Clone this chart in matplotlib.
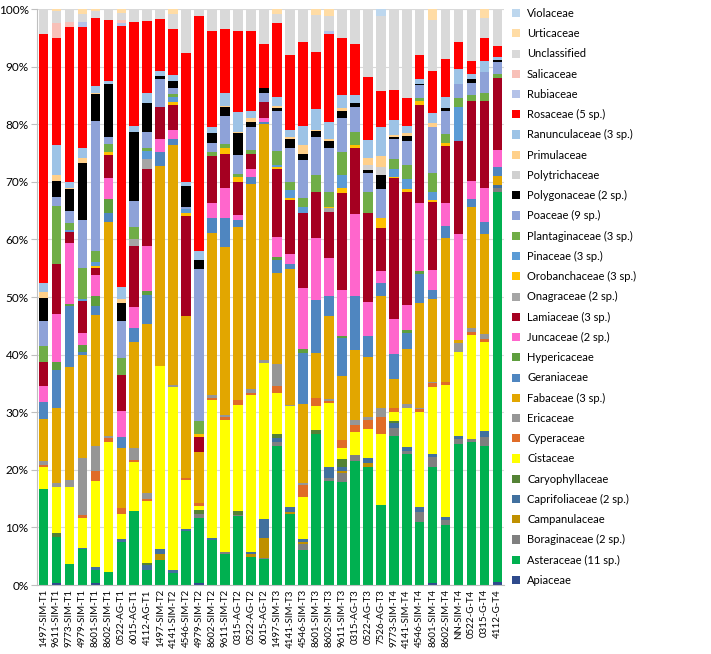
import matplotlib
matplotlib.use("Agg")
import matplotlib.pyplot as plt
import numpy as np
from matplotlib.ticker import FuncFormatter, MultipleLocator

plt.rcParams['font.family'] = ['Lato', 'DejaVu Sans']

samples = ["1497-SIM-T1", "9611-SIM-T1", "9773-SIM-T1", "4979-SIM-T1", "8601-SIM-T1",
           "8602-SIM-T1", "0522-AG-T1", "6015-AG-T1", "4112-AG-T1", "1497-SIM-T2",
           "4141-SIM-T2", "4546-SIM-T2", "4979-SIM-T2", "8602-SIM-T2", "9611-SIM-T2",
           "0315-AG-T2", "0522-AG-T2", "6015-AG-T2", "1497-SIM-T3", "4141-SIM-T3",
           "4546-SIM-T3", "8601-SIM-T3", "8602-SIM-T3", "9611-SIM-T3", "0315-AG-T3",
           "0522-AG-T3", "7526-AG-T3", "9773-SIM-T4", "4141-SIM-T4", "4546-SIM-T4",
           "8601-SIM-T4", "8602-SIM-T4", "NN-SIM-T4", "0522-G-T4", "0315-G-T4", "4112-G-T4"]

# percentages per family, one value per sample (stack order, bottom first)
apiaceae = [0, 0.4, 0, 0, 0.3, 0, 0, 0, 0, 0,
            0, 0, 0.3, 0, 0, 0, 0, 0, 0, 0,
            0, 0, 0, 0, 0, 0, 0, 0, 0, 0,
            0.3, 0, 0, 0, 0, 0.5]
asteraceae = [16.7, 8.0, 3.6, 6.2, 2.3, 2.2, 7.5, 12.8, 2.6, 4.3,
              2.0, 9.3, 11.4, 7.8, 5.3, 12.0, 4.9, 4.5, 24.2, 12.3,
              6.1, 26.3, 18.1, 17.9, 21.5, 20.5, 13.9, 25.9, 22.7, 10.9,
              20.2, 10.5, 24.5, 24.8, 24.2, 67.8]
boraginaceae = [0, 0, 0, 0, 0, 0, 0, 0, 0, 0,
                0, 0, 0.7, 0, 0.5, 0.2, 0, 0.2, 0.6, 0,
                1.0, 0, 0.5, 1.5, 1.1, 0, 0, 1.3, 0.6, 1.8,
                1.8, 0.8, 0.8, 0.6, 1.5, 0.7]
campanulaceae = [0, 0, 0, 0, 0, 0, 0, 0, 0, 1.0,
                 0, 0, 0, 0, 0, 0, 0.4, 3.4, 0, 0.4,
                 0.3, 0, 0, 0.4, 0, 0.6, 0, 0, 0, 0,
                 0, 0, 0, 0, 0, 0]
caprifoliaceae = [0, 0, 0, 0.2, 0.6, 0, 0.5, 0, 0.8, 0.9,
                  0.6, 0.5, 0, 0.3, 0, 0, 0.4, 3.4, 0.7, 0.9,
                  0.6, 0, 1.8, 0.7, 0, 0.9, 0, 0.9, 0.7, 0.9,
                  0.4, 0.5, 0.5, 0, 1.0, 0.5]
caryophyllaceae = [0, 0.6, 0, 0, 0, 0, 0, 0, 0.4, 0,
                   0, 0, 0.6, 0, 0, 0.6, 0, 0, 0.7, 0,
                   0, 0.6, 0, 1.4, 0, 0, 0, 0.4, 0, 0,
                   0, 0, 0, 0, 0, 0]
cistaceae = [3.8, 8.1, 13.5, 5.3, 14.8, 22.6, 4.3, 8.6, 10.8, 31.8,
             31.7, 8.4, 0.7, 24.0, 22.8, 18.4, 27.3, 27.1, 7.1, 17.4,
             7.3, 4.2, 11.2, 1.8, 3.9, 5.1, 12.4, 1.5, 6.8, 16.4,
             11.6, 23.0, 14.7, 18.0, 15.5, 0]
cyperaceae = [0.3, 0, 0, 0.5, 1.8, 0.7, 1.0, 0.3, 0.4, 0,
              0, 0.4, 0.5, 0.3, 0.5, 0.9, 0.4, 0, 1.2, 0,
              2.0, 1.3, 0.4, 1.5, 1.2, 1.5, 2.8, 0.8, 0, 0.5,
              0.7, 0.5, 0, 0.6, 0.5, 0]
ericaceae = [0.8, 0.6, 1.1, 9.8, 4.4, 0.4, 0, 2.0, 0.9, 0,
             0.4, 0, 0, 0.6, 0.4, 0, 0.7, 0.5, 3.9, 0.3,
             0.4, 0, 0.3, 0, 0.9, 0.5, 1.6, 0, 0.6, 0.3,
             0.3, 0, 1.5, 0.6, 0.8, 0]
fabaceae = [7.2, 13.0, 19.6, 17.9, 22.7, 37.2, 10.5, 18.5, 29.4, 34.8,
            41.7, 28.1, 8.9, 28.1, 29.2, 30.0, 35.5, 40.9, 15.7, 23.5,
            13.8, 7.9, 14.4, 11.1, 12.2, 10.4, 19.4, 4.9, 9.5, 18.2,
            14.3, 25.0, 0.5, 21.0, 17.5, 1.5]
geraniaceae = [2.9, 6.7, 10.6, 0.6, 1.5, 1.4, 1.9, 2.4, 5.0, 2.4,
               1.0, 0, 0, 2.6, 5.0, 1.2, 1.3, 0.4, 2.4, 0.9,
               8.7, 9.1, 3.5, 6.6, 9.4, 3.7, 2.3, 4.4, 2.9, 5.0,
               1.6, 2.0, 0, 1.5, 2.0, 1.5]
hypericaceae = [0, 1.4, 0.3, 1.2, 1.8, 2.5, 0, 0, 0.8, 0,
                0, 0, 0, 0, 0, 0, 0, 0, 0.5, 0,
                0.7, 0, 0, 0.3, 0, 0, 0, 0, 0.4, 0.6,
                0, 0, 0, 0, 0, 0]
juncaceae = [2.9, 8.2, 10.6, 2.0, 3.6, 3.7, 4.5, 3.6, 7.8, 2.3,
             1.6, 0, 0, 2.6, 5.3, 0.9, 1.4, 0.6, 3.4, 1.8,
             10.6, 10.8, 6.5, 8.0, 14.2, 6.0, 2.2, 6.0, 4.4, 11.8,
             3.5, 4.0, 18.5, 3.0, 6.0, 3.0]
lamiaceae = [4.1, 8.7, 2.0, 5.6, 1.3, 4.0, 6.3, 10.7, 13.4, 5.5,
             4.4, 17.3, 2.6, 8.2, 5.9, 5.8, 2.6, 2.9, 11.9, 9.3,
             13.1, 8.0, 8.1, 16.8, 11.4, 15.3, 7.3, 24.5, 19.7, 17.0,
             11.8, 10.0, 16.0, 14.0, 15.0, 12.5]
onagraceae = [0, 0, 0, 0, 0, 0, 0, 1.1, 1.7, 0,
              0, 0, 0, 0, 0, 0, 0, 0, 0, 0,
              0, 0, 0.6, 0, 0, 0, 0, 0, 0, 0,
              0, 0, 0, 0, 0, 0]
orobanchaceae = [0, 0, 0, 0, 0.3, 0.5, 0, 0, 0, 0,
                 0.4, 0.6, 0.5, 0, 1.0, 0.9, 0, 0, 0.3, 0.4,
                 0, 0, 0.3, 0.9, 0.6, 0, 1.8, 0.3, 0.5, 0.6,
                 0.3, 0.5, 0, 0, 0, 0]
pinaceae = [0, 0, 0.3, 0.3, 0.7, 0, 0, 0, 1.4, 0,
            1.0, 0.7, 0, 0, 0, 0, 0, 0, 0.4, 1.4,
            1.0, 0, 0, 2.2, 0, 0, 0, 1.4, 1.7, 0,
            1.4, 0, 6.0, 0, 0, 0]
plantaginaceae = [2.8, 10.1, 1.2, 5.5, 1.8, 1.3, 2.9, 2.2, 0.4, 0,
                  0.4, 0, 2.3, 0.7, 0.6, 0.4, 0.6, 0, 2.3, 1.4,
                  1.6, 2.9, 2.6, 4.1, 2.3, 3.7, 0, 1.7, 2.5, 0.6,
                  3.3, 1.5, 1.5, 1.0, 1.5, 0.8]
poaceae = [4.4, 1.5, 2.2, 8.3, 22.7, 1.2, 6.5, 4.5, 2.9, 4.8,
           1.1, 0.4, 26.3, 1.6, 4.9, 3.4, 4.0, 1.6, 7.0, 5.8,
           6.6, 6.6, 7.6, 5.9, 4.3, 3.3, 5.1, 3.4, 4.1, 2.2,
           8.1, 4.0, 2.5, 2.0, 3.5, 2.0]
polygonaceae = [3.9, 2.9, 3.7, 9.8, 4.6, 9.3, 3.1, 11.9, 4.9, 0.6,
                1.2, 3.5, 1.6, 1.6, 1.5, 3.7, 0.9, 0.7, 0.5, 1.6,
                1.1, 1.1, 1.2, 1.2, 0.6, 0.5, 2.3, 0.3, 0.9, 0.2,
                0, 0.5, 0, 0.8, 0, 0.3]
polytrichaceae = [0, 0, 0, 0, 0, 0, 0, 0, 0, 0,
                  0, 0, 0, 0, 0, 0, 0, 0, 0, 0,
                  0, 0, 0, 0, 0, 1.0, 1.4, 0, 0, 0,
                  0, 0, 0, 0, 0, 0]
primulaceae = [1.0, 1.0, 0.3, 1.0, 0.3, 0, 0.6, 0, 0, 0,
               0, 0, 0, 0, 0.3, 0.3, 0.7, 0, 0.3, 0.3,
               1.5, 0.2, 0.4, 0.5, 0, 1.1, 1.9, 0.4, 0.4, 0,
               0.6, 0, 0, 0, 0, 0]
ranunculaceae = [1.6, 5.2, 1.0, 1.6, 1.1, 0.5, 2.1, 1.1, 1.8, 0.8,
                 1.1, 0.8, 1.5, 1.2, 2.3, 3.4, 1.2, 0, 1.7, 1.3,
                 3.3, 3.6, 2.9, 2.3, 1.4, 3.2, 5.2, 2.6, 1.3, 0.9,
                 1.7, 2.0, 2.5, 0.8, 2.0, 0.6]
rosaceae = [43.3, 18.5, 26.8, 21.1, 11.8, 10.6, 45.4, 18.0, 12.5, 9.1,
            8.0, 22.3, 40.8, 16.5, 11.1, 14.0, 13.8, 7.7, 12.7, 13.0,
            14.6, 9.9, 15.3, 9.9, 8.9, 10.9, 6.2, 5.2, 4.8, 4.1,
            7.3, 6.5, 4.7, 2.3, 4.0, 1.8]
rubiaceae = [0, 0, 0, 0.8, 0, 0, 0.4, 0, 0, 0,
             0, 0, 0, 0, 0, 0, 0, 0, 0, 0,
             0, 0, 0.4, 0, 0, 0, 0, 0, 0, 0,
             0, 0, 0, 0, 0, 0]
salicaceae = [0, 2.6, 1.0, 0, 0, 0, 0.6, 0, 0, 0,
              0, 0, 0, 0, 0, 0, 0, 0, 0, 0,
              0, 0, 0, 0, 0, 0, 0, 0, 0, 0,
              0, 0, 0, 0, 0, 0]
unclassified = [4.3, 2.1, 2.2, 1.5, 1.3, 1.9, 1.2, 2.3, 2.1, 1.7,
                2.5, 7.7, 1.3, 3.9, 3.4, 3.9, 3.9, 6.1, 1.7, 8.0,
                5.7, 6.5, 2.6, 5.0, 6.1, 11.8, 13.0, 14.1, 15.5, 8.0,
                8.9, 8.7, 5.8, 9.0, 3.5, 6.5]
urticaceae = [0, 0.4, 0, 0.8, 0.3, 0, 0.7, 0, 0, 0,
              0.9, 0, 0, 0, 0, 0, 0, 0, 0.8, 0,
              0, 1.0, 1.3, 0, 0, 0, 0, 0, 0, 0,
              1.9, 0, 0, 0, 1.5, 0]
violaceae = [0, 0, 0, 0, 0, 0, 0, 0, 0, 0,
             0, 0, 0, 0, 0, 0, 0, 0, 0, 0,
             0, 0, 0, 0, 0, 0, 1.2, 0, 0, 0,
             0, 0, 0, 0, 0, 0]

families = ["Apiaceae", "Asteraceae (11 sp.)", "Boraginaceae (2 sp.)", "Campanulaceae",
            "Caprifoliaceae (2 sp.)", "Caryophyllaceae", "Cistaceae", "Cyperaceae",
            "Ericaceae", "Fabaceae (3 sp.)", "Geraniaceae", "Hypericaceae",
            "Juncaceae (2 sp.)", "Lamiaceae (3 sp.)", "Onagraceae (2 sp.)",
            "Orobanchaceae (3 sp.)", "Pinaceae (3 sp.)", "Plantaginaceae (3 sp.)",
            "Poaceae (9 sp.)", "Polygonaceae (2 sp.)", "Polytrichaceae", "Primulaceae",
            "Ranunculaceae (3 sp.)", "Rosaceae (5 sp.)", "Rubiaceae", "Salicaceae",
            "Unclassified", "Urticaceae", "Violaceae"]

series = [apiaceae, asteraceae, boraginaceae, campanulaceae, caprifoliaceae,
          caryophyllaceae, cistaceae, cyperaceae, ericaceae, fabaceae, geraniaceae,
          hypericaceae, juncaceae, lamiaceae, onagraceae, orobanchaceae, pinaceae,
          plantaginaceae, poaceae, polygonaceae, polytrichaceae, primulaceae,
          ranunculaceae, rosaceae, rubiaceae, salicaceae, unclassified, urticaceae,
          violaceae]

colors = ["#2E4A8C", "#00B050", "#7F7F7F", "#BF9000", "#41709E", "#548235",
          "#FFFF00", "#E06C28", "#969696", "#E2A600", "#4F86C0", "#5E9E3E",
          "#FF66CC", "#A50021", "#A5A5A5", "#FFC000", "#5B9BD5", "#70AD47",
          "#8EA2D8", "#000000", "#D0D0D0", "#FFD08A", "#9DC3E6", "#FF0000",
          "#B4C2E8", "#F8C0B8", "#D9D9D9", "#FFDCA5", "#BDD7EE"]

fig = plt.figure(figsize=(7.11, 6.54), dpi=100)
ax = fig.add_axes([37 / 711, 69 / 654, 467 / 711, 576 / 654])

x = np.arange(len(samples))
bottom = np.zeros(len(samples))
for name, vals, col in zip(families, series, colors):
    v = np.array(vals, dtype=float)
    ax.bar(x, v, 0.74, bottom=bottom, color=col, label=name, linewidth=0)
    bottom += v

ax.set_xlim(-0.5, len(samples) - 0.5)
ax.set_ylim(0, 100)
ax.yaxis.set_major_locator(MultipleLocator(10))
ax.yaxis.set_major_formatter(FuncFormatter(lambda v, p: f"{int(v)}%"))
ax.set_xticks(x)
ax.set_xticklabels(samples, rotation=90, fontsize=7)
ax.tick_params(axis="x", length=0, pad=3)
ax.tick_params(axis="y", labelsize=8.5, length=4, color="#BFBFBF", pad=2)
ax.grid(axis="y", color="#D9D9D9", linewidth=0.8)
ax.set_axisbelow(True)
for side in ["top", "right"]:
    ax.spines[side].set_visible(False)
for side in ["left", "bottom"]:
    ax.spines[side].set_color("#BFBFBF")

handles, labels = ax.get_legend_handles_labels()
fig.legend(handles[::-1], labels[::-1], loc="upper left",
           bbox_to_anchor=(512 / 711, 1 - 8 / 654), frameon=False, fontsize=8,
           handlelength=0.75, handleheight=0.75, handletextpad=0.6,
           labelspacing=0.83, borderaxespad=0, borderpad=0)

fig.savefig("out.png", dpi=100)
